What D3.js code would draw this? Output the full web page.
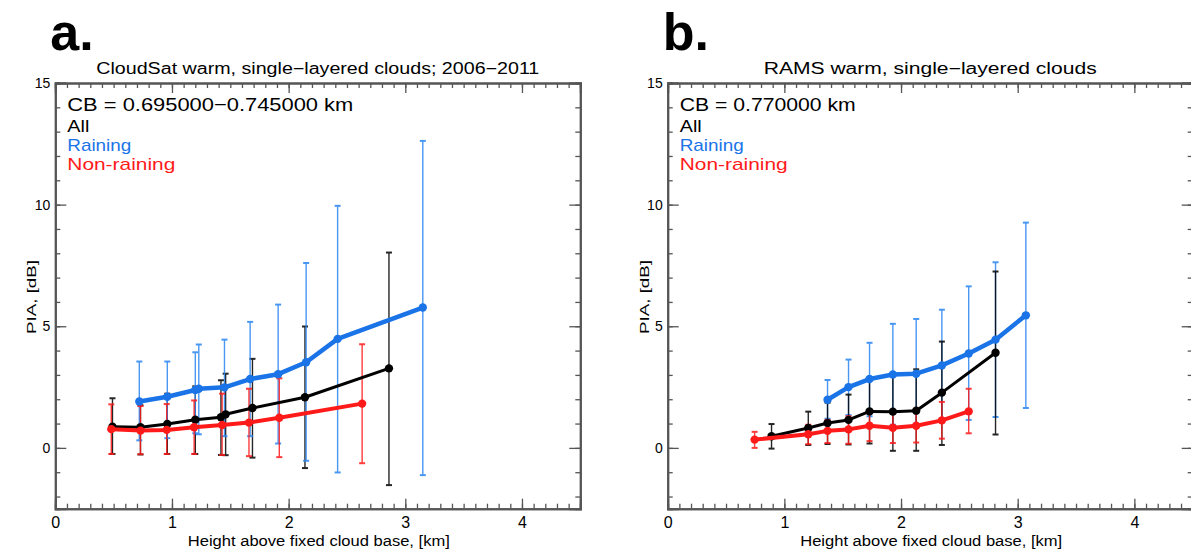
<!DOCTYPE html>
<html lang="en">
<head>
<meta charset="UTF-8">
<title>PIA vs height above cloud base</title>
<script src="https://d3js.org/d3.v7.min.js"></script>
<style>
  body { margin: 0; background: #fff; }
  text { font-family: "Liberation Sans", Arial, sans-serif; fill: #000; }
  .axis path, .axis line { stroke: #555; }
  .axis path { stroke-width: 2px; }
  .axis line { stroke-width: 1.3px; }
  .xlab text { font-size: 16px; fill: #000; }
  .ylab text { font-size: 14px; fill: #000; }
</style>
</head>
<body>
<svg width="1191" height="552"></svg>
<script>
// ---- panel a : CloudSat ----
const aAllX  = [0.49, 0.73, 0.96, 1.20, 1.42, 1.46, 1.69, 2.14, 2.86];
const aAllY  = [0.87, 0.85, 0.98, 1.16, 1.26, 1.38, 1.64, 2.08, 3.27];
const aAllLo = [-0.25, -0.27, -0.25, -0.25, -0.29, -0.30, -0.40, -0.83, -1.53];
const aAllHi = [2.04, 1.75, 2.23, 2.53, 2.78, 3.05, 3.66, 4.99, 8.03];

const aRainX  = [0.72, 0.96, 1.20, 1.23, 1.45, 1.67, 1.91, 2.15, 2.42, 3.15];
const aRainY  = [1.91, 2.10, 2.38, 2.43, 2.49, 2.83, 3.03, 3.52, 4.48, 5.77];
const aRainLo = [0.31, 0.40, 0.60, 0.56, 0.48, 0.48, 0.18, -0.53, -1.01, -1.12];
const aRainHi = [3.55, 3.55, 3.93, 4.25, 4.45, 5.18, 5.89, 7.60, 9.95, 12.62];

const aNoX  = [0.48, 0.73, 0.955, 1.19, 1.43, 1.66, 1.92, 2.63];
const aNoY  = [0.77, 0.71, 0.74, 0.85, 0.94, 1.04, 1.24, 1.82];
const aNoLo = [-0.25, -0.26, -0.25, -0.25, -0.29, -0.34, -0.38, -0.63];
const aNoHi = [1.79, 1.72, 1.80, 1.95, 2.23, 2.43, 2.86, 4.26];

// ---- panel b : RAMS ----
const bAllX  = [0.89, 1.205, 1.37, 1.55, 1.73, 1.93, 2.13, 2.35, 2.81];
const bAllY  = [0.48, 0.82, 1.02, 1.15, 1.50, 1.49, 1.53, 2.27, 3.91];
const bAllLo = [-0.03, 0.12, 0.16, 0.14, 0.18, -0.12, -0.12, 0.12, 0.55];
const bAllHi = [0.98, 1.49, 1.86, 2.19, 2.81, 3.02, 3.23, 4.37, 7.25];

const bRainX  = [1.37, 1.55, 1.73, 1.93, 2.13, 2.35, 2.58, 2.81, 3.07];
const bRainY  = [1.98, 2.50, 2.83, 3.02, 3.05, 3.39, 3.88, 4.45, 5.45];
const bRainLo = [1.20, 1.35, 1.30, 0.95, 0.85, 1.10, 1.15, 1.27, 1.64];
const bRainHi = [2.79, 3.63, 4.32, 5.10, 5.30, 5.68, 6.64, 7.63, 9.26];

const bNoX  = [0.745, 1.205, 1.37, 1.55, 1.73, 1.93, 2.13, 2.35, 2.58];
const bNoY  = [0.34, 0.56, 0.70, 0.76, 0.91, 0.83, 0.91, 1.13, 1.50];
const bNoLo = [0.00, 0.15, 0.20, 0.17, 0.28, 0.20, 0.22, 0.38, 0.60];
const bNoHi = [0.66, 0.95, 1.15, 1.30, 1.45, 1.40, 1.50, 1.89, 2.43];

const xMajor = [0, 1, 2, 3, 4];
const yMajor = [0, 5, 10, 15];
const legendNames = ["All", "Raining", "Non-raining"];

const svg = d3.select("svg");
const plotTop = 83, plotBottom = 508.7, plotW = 525;

function zip(xs, ys, lo, hi) {
  return xs.map((x, i) => ({x: x, y: ys[i], lo: lo[i], hi: hi[i]}));
}

function drawPanel(left, letter, title, titleLen, cbText, cbLen, series) {
  const x = d3.scaleLinear().domain([0, 4.5]).range([left, left + plotW]);
  const y = d3.scaleLinear().domain([-2.5, 15]).range([plotBottom, plotTop]);
  const g = svg.append("g");

  // axes: minor ticks then major ticks, all pointing inward
  const xMinor = d3.range(0, 4.51, 0.1);
  const yMinor = d3.range(-2, 15.01, 1);
  g.append("g").attr("class", "axis").attr("transform", `translate(0,${plotBottom})`)
    .call(d3.axisBottom(x).tickValues(xMinor).tickSize(-5).tickFormat(""));
  g.append("g").attr("class", "axis").attr("transform", `translate(0,${plotTop})`)
    .call(d3.axisTop(x).tickValues(xMinor).tickSize(-5).tickFormat(""));
  g.append("g").attr("class", "axis").attr("transform", `translate(${left},0)`)
    .call(d3.axisLeft(y).tickValues(yMinor).tickSize(-5).tickFormat(""));
  g.append("g").attr("class", "axis").attr("transform", `translate(${left + plotW},0)`)
    .call(d3.axisRight(y).tickValues(yMinor).tickSize(-5).tickFormat(""));

  g.append("g").attr("class", "axis xlab").attr("transform", `translate(0,${plotBottom})`)
    .call(d3.axisBottom(x).tickValues(xMajor).tickSize(-10).tickPadding(8).tickFormat(d3.format("d")));
  g.append("g").attr("class", "axis").attr("transform", `translate(0,${plotTop})`)
    .call(d3.axisTop(x).tickValues(xMajor).tickSize(-10).tickFormat(""));
  g.append("g").attr("class", "axis ylab").attr("transform", `translate(${left},0)`)
    .call(d3.axisLeft(y).tickValues(yMajor).tickSize(-11).tickPadding(5).tickFormat(d3.format("d")));
  g.append("g").attr("class", "axis").attr("transform", `translate(${left + plotW},0)`)
    .call(d3.axisRight(y).tickValues(yMajor).tickSize(-11).tickFormat(""));
  g.selectAll(".axis .domain").attr("stroke", "#555").attr("stroke-width", 2);

  // titles
  g.append("text").attr("x", left + plotW / 2).attr("y", 74)
    .attr("text-anchor", "middle").attr("font-size", 16)
    .attr("textLength", titleLen).attr("lengthAdjust", "spacingAndGlyphs").text(title);
  g.append("text").attr("x", left - 5).attr("y", 50)
    .attr("font-size", 52).attr("font-weight", "bold").text(letter);
  g.append("text").attr("x", left + plotW / 2 + 1).attr("y", 546)
    .attr("text-anchor", "middle").attr("font-size", 14)
    .attr("textLength", 262).attr("lengthAdjust", "spacingAndGlyphs")
    .text("Height above fixed cloud base, [km]");
  g.append("text").attr("transform", `translate(${left - 19},297) rotate(-90)`)
    .attr("text-anchor", "middle").attr("font-size", 12)
    .attr("textLength", 74).attr("lengthAdjust", "spacingAndGlyphs").text("PIA, [dB]");

  // legend text
  g.append("text").attr("x", left + 12).attr("y", 111).attr("font-size", 19)
    .attr("textLength", cbLen).attr("lengthAdjust", "spacingAndGlyphs").text(cbText);
  const legLen = [22, 64, 108];
  series.slice().sort((a, b) => a.order - b.order).forEach((s, i) => {
    g.append("text").attr("x", left + 12).attr("y", 132 + i * 19).attr("font-size", 17)
      .style("fill", s.color)
      .attr("textLength", legLen[i]).attr("lengthAdjust", "spacingAndGlyphs").text(legendNames[i]);
  });

  // error bars
  series.forEach(s => {
    const bars = g.append("g").attr("stroke", s.barColor).attr("stroke-width", 1.4).attr("opacity", 0.85);
    s.data.forEach(d => {
      bars.append("line").attr("x1", x(d.x)).attr("x2", x(d.x)).attr("y1", y(d.lo)).attr("y2", y(d.hi));
      [d.lo, d.hi].forEach(v => bars.append("line")
        .attr("x1", x(d.x) - 3).attr("x2", x(d.x) + 3).attr("y1", y(v)).attr("y2", y(v)).attr("stroke-width", 2));
    });
  });

  // lines and markers
  const line = d3.line().x(d => x(d.x)).y(d => y(d.y));
  series.forEach(s => {
    g.append("path").datum(s.data).attr("d", line)
      .attr("fill", "none").attr("stroke", s.color).attr("stroke-width", s.width)
      .attr("stroke-linejoin", "round");
    g.selectAll(null).data(s.data).enter().append("path")
      .attr("transform", d => `translate(${x(d.x)},${y(d.y)})`)
      .attr("d", d3.symbol().type(d3.symbolCircle).size(55))
      .attr("fill", s.color);
  });
}

const BLUE = "#1a74e8", BLUEBAR = "#2a86f2", RED = "#ff1a1a", BLACK = "#000";

drawPanel(55.3, "a.", "CloudSat warm, single\u2212layered clouds; 2006\u22122011", 443,
  "CB = 0.695000\u22120.745000 km", 286, [
    {order: 0, color: BLACK, barColor: BLACK, width: 3, data: zip(aAllX, aAllY, aAllLo, aAllHi)},
    {order: 1, color: BLUE, barColor: BLUEBAR, width: 4.5, data: zip(aRainX, aRainY, aRainLo, aRainHi)},
    {order: 2, color: RED, barColor: RED, width: 4, data: zip(aNoX, aNoY, aNoLo, aNoHi)}
  ]);

drawPanel(667.7, "b.", "RAMS warm, single\u2212layered clouds", 333,
  "CB = 0.770000 km", 176, [
    {order: 1, color: BLUE, barColor: BLUEBAR, width: 4.5, data: zip(bRainX, bRainY, bRainLo, bRainHi)},
    {order: 0, color: BLACK, barColor: BLACK, width: 3, data: zip(bAllX, bAllY, bAllLo, bAllHi)},
    {order: 2, color: RED, barColor: RED, width: 4, data: zip(bNoX, bNoY, bNoLo, bNoHi)}
  ]);
</script>
</body>
</html>
